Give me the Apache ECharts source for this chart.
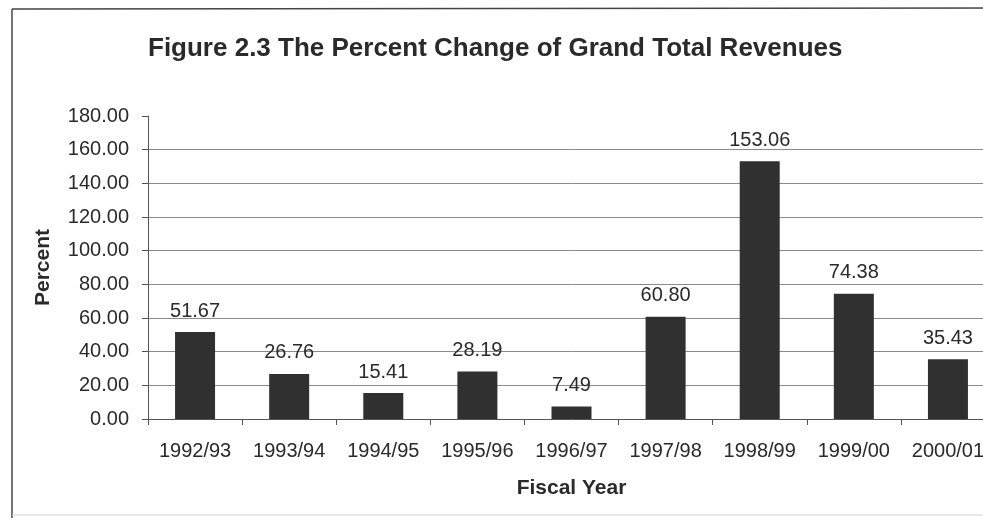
<!DOCTYPE html>
<html>
<head>
<meta charset="utf-8">
<title>Figure 2.3 The Percent Change of Grand Total Revenues</title>
<script src="https://cdn.jsdelivr.net/npm/echarts@6/dist/echarts.min.js"></script>
<style>
  html, body { margin: 0; padding: 0; background: #fff; overflow: hidden; }
  #chart { width: 1000px; height: 518px; }
</style>
</head>
<body>
<div id="chart"></div>
<script>
// Fiscal years and the percent change of grand total revenues
const fiscalYears = ['1992/93', '1993/94', '1994/95', '1995/96', '1996/97', '1997/98', '1998/99', '1999/00', '2000/01'];
const percentChange = [51.67, 26.76, 15.41, 28.19, 7.49, 60.80, 153.06, 74.38, 35.43];
const yTicks = { min: 0, max: 180, step: 20 };

const FONT = '"Liberation Sans", Arial, sans-serif';
const INK = '#2a2a2a';

// grid lines between 20 and 160 only; none on the base axis or the top tick
const tickCount = (yTicks.max - yTicks.min) / yTicks.step + 1;
const gridColors = [];
for (let i = 0; i < tickCount; i++) {
  gridColors.push(i === 0 || i === tickCount - 1 ? 'rgba(0,0,0,0)' : '#8a8a8a');
}

const chart = echarts.init(document.getElementById('chart'), null, { renderer: 'canvas' });

chart.setOption({
  backgroundColor: '#ffffff',
  animation: false,
  title: {
    text: 'Figure 2.3 The Percent Change of Grand Total Revenues',
    left: 143,
    top: 31,
    textStyle: { fontFamily: FONT, fontSize: 26, fontWeight: 'bold', color: INK }
  },
  grid: { left: 148, right: 5, top: 116, bottom: 99 },
  xAxis: {
    type: 'category',
    data: fiscalYears,
    boundaryGap: true,
    name: 'Fiscal Year',
    nameLocation: 'middle',
    nameGap: 59,
    nameTextStyle: { fontFamily: FONT, fontSize: 21, fontWeight: 'bold', color: INK },
    axisLine: { show: true, lineStyle: { color: '#555', width: 1 } },
    axisTick: { show: true, length: 6, inside: false, lineStyle: { color: '#555' } },
    axisLabel: { fontFamily: FONT, fontSize: 20, color: INK, margin: 22 },
    splitLine: { show: false }
  },
  yAxis: {
    type: 'value',
    min: yTicks.min,
    max: yTicks.max,
    interval: yTicks.step,
    name: 'Percent',
    nameLocation: 'middle',
    nameRotate: 90,
    nameGap: 94,
    nameTextStyle: { fontFamily: FONT, fontSize: 21, fontWeight: 'bold', color: INK },
    axisLine: { show: true, lineStyle: { color: '#555', width: 1 } },
    axisTick: { show: true, length: 6, inside: false, lineStyle: { color: '#555' } },
    axisLabel: {
      fontFamily: FONT, fontSize: 20, color: INK, margin: 19,
      formatter: v => v.toFixed(2)
    },
    splitLine: { show: true, lineStyle: { color: gridColors, width: 1 } }
  },
  series: [{
    type: 'bar',
    data: percentChange,
    barWidth: 40,
    itemStyle: { color: '#303030' },
    label: {
      show: true,
      position: 'top',
      distance: 11,
      fontFamily: FONT,
      fontSize: 20,
      color: INK,
      formatter: p => Number(p.value).toFixed(2)
    }
  }],
  graphic: [
    { type: 'line', shape: { x1: 12, y1: 9, x2: 12, y2: 518 }, style: { stroke: '#444', lineWidth: 1.5 } },
    { type: 'line', shape: { x1: 12, y1: 9, x2: 1000, y2: 8 }, style: { stroke: '#444', lineWidth: 1.5 } },
    { type: 'line', shape: { x1: 12, y1: 515, x2: 1000, y2: 515 }, style: { stroke: '#cfcfcf', lineWidth: 1 } }
  ]
});
</script>
</body>
</html>
